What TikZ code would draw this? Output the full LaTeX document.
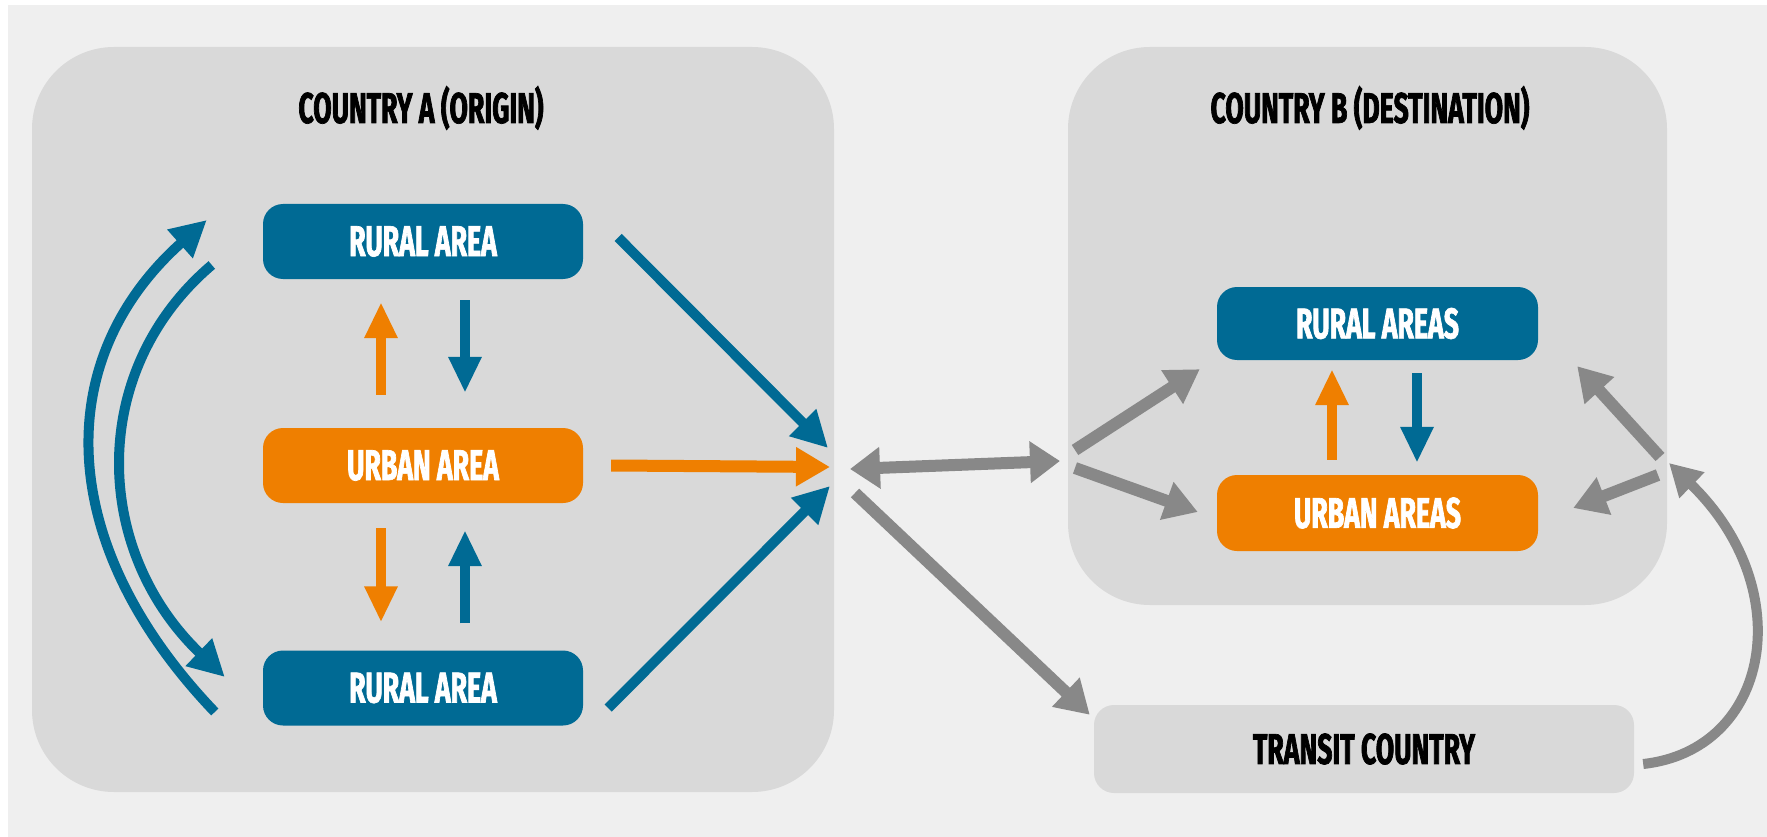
\documentclass[tikz,border=0pt]{standalone}
\usepackage{fontspec}
\usetikzlibrary{arrows.meta}
\newfontfamily\lblfont{Fira Sans}[FakeStretch=0.62,FakeBold=1.6]
\definecolor{migblue}{HTML}{006A94}
\definecolor{migorange}{HTML}{EF7F00}
\definecolor{miggray}{HTML}{888888}
\definecolor{panel}{HTML}{D9D9D9}
\definecolor{canvas}{HTML}{EFEFEF}

\begin{document}
\begin{tikzpicture}[x=1pt,y=-1pt,
  lbl/.style={font=\lblfont\bfseries\fontsize{43}{43}\selectfont},
  panelbox/.style={fill=panel, rounded corners=82pt, inner sep=0pt},
  titletext/.style={lbl, text=black, inner sep=0pt, anchor=base},
  areabox/.style={lbl, rounded corners=20pt, minimum width=320pt,
    minimum height=75pt, inner sep=0pt, text=white},
  ruralbox/.style={areabox, fill=migblue},
  urbanbox/.style={areabox, fill=migorange},
  transitbox/.style={lbl, fill=panel, rounded corners=20pt, minimum width=540pt,
    minimum height=88pt, inner sep=0pt, text=black},
  bluearrow/.style={draw=migblue, line width=10pt, -{Triangle[length=36pt,width=36pt]}},
  orangearrow/.style={draw=migorange, line width=12pt, -{Triangle[length=34pt,width=37pt]}},
  vblue/.style={draw=migblue, line width=10pt, -{Triangle[length=36pt,width=31pt]}},
  vorange/.style={draw=migorange, line width=10pt, -{Triangle[length=36pt,width=31pt]}},
  grayarrow/.style={draw=miggray, line width=12pt, -{Triangle[length=33pt,width=38pt]}},
  graydouble/.style={draw=miggray, line width=12pt,
    {Triangle[length=30pt,width=40pt]}-{Triangle[length=30pt,width=40pt]}},
  graycurve/.style={draw=miggray, line width=10pt, -{Triangle[length=32pt,width=34pt]}}
]
% canvas
\fill[white] (0,0) rectangle (1767,837);
\fill[canvas] (8,5) rectangle (1767,837);
\useasboundingbox (0,0) rectangle (1767,837);

% country panels
\node[panelbox, minimum width=802pt, minimum height=745pt] (ca) at (433,419.5) {};
\node[panelbox, minimum width=599pt, minimum height=558pt] (cb) at (1367.5,326) {};
\node[titletext] (ta) at (421,123) {COUNTRY A (ORIGIN)};
\node[titletext] (tb) at (1370,123) {COUNTRY B (DESTINATION)};

% areas in country A
\node[ruralbox] (ra1) at (423,241.5) {RURAL AREA};
\node[urbanbox] (ua) at (423,465.5) {URBAN AREA};
\node[ruralbox] (ra2) at (423,688) {RURAL AREA};

% areas in country B
\node[ruralbox, minimum width=321pt, minimum height=73pt] (rb) at (1377.5,323.5) {RURAL AREAS};
\node[urbanbox, minimum width=321pt, minimum height=76pt] (ub) at (1377.5,513) {URBAN AREAS};

% transit country
\node[transitbox] (tc) at (1364,749) {TRANSIT COUNTRY};

% junction points
\coordinate (hubA1) at (828,448);
\coordinate (hubA2) at (830,467);
\coordinate (hubA3) at (830,486);
\coordinate (gL) at (850,469);
\coordinate (gR) at (1060,461);
\coordinate (gT) at (855,493);
\coordinate (bL1) at (1075,450);
\coordinate (bL2) at (1075,468);
\coordinate (bR1) at (1660,457);
\coordinate (bR2) at (1658,475);
\coordinate (bR3) at (1669,463);

% flows between areas of country A
\draw[vorange] ([xshift=-42pt,yshift=33pt]ua.north) -- ([xshift=-42pt,yshift=-23pt]ra1.south);
\draw[vblue] ([xshift=42pt,yshift=-21pt]ra1.south) -- ([xshift=42pt,yshift=35pt]ua.north);
\draw[vorange] ([xshift=-42pt,yshift=-25pt]ua.south) -- ([xshift=-42pt,yshift=28pt]ra2.north);
\draw[vblue] ([xshift=42pt,yshift=27pt]ra2.north) -- ([xshift=42pt,yshift=-27pt]ua.south);

% rural to rural
\draw[bluearrow] ([xshift=-48pt,yshift=-24pt]ra2.west)
  .. controls (55,545) and (50,360) .. ([xshift=-56pt,yshift=21.5pt]ra1.west);
\draw[bluearrow] ([xshift=-51pt,yshift=-23.5pt]ra1.west)
  .. controls (88,370) and (92,550) .. ([xshift=-38pt,yshift=11pt]ra2.west);

% emigration out of country A
\draw[bluearrow] ([xshift=35pt,yshift=4pt]ra1.east) -- (hubA1);
\draw[orangearrow] ([xshift=28pt]ua.east) -- (hubA2);
\draw[bluearrow] ([xshift=25pt,yshift=-20pt]ra2.east) -- (hubA3);

% international routes
\draw[graydouble] (gL) -- (gR);
\draw[grayarrow] (gT) -- ([xshift=-4pt,yshift=-10pt]tc.north west);
\draw[grayarrow] (bL1) -- ([xshift=-17pt,yshift=-9pt]rb.south west);
\draw[grayarrow] (bL2) -- ([xshift=-19pt,yshift=1pt]ub.west);
\draw[grayarrow] (bR1) -- ([xshift=39pt,yshift=-6pt]rb.south east);
\draw[grayarrow] (bR2) -- ([xshift=35pt,yshift=5pt]ub.east);
\draw[graycurve] ([xshift=9pt,yshift=-15pt]tc.east)
  .. controls (1770,750) and (1800,590) .. (bR3);

% flows between areas of country B
\draw[vorange] ([xshift=-45.5pt,yshift=15pt]ub.north) -- ([xshift=-45.5pt,yshift=-9pt]rb.south);
\draw[vblue] ([xshift=39.5pt,yshift=-13pt]rb.south) -- ([xshift=39.5pt,yshift=12pt]ub.north);
\end{tikzpicture}
\end{document}
